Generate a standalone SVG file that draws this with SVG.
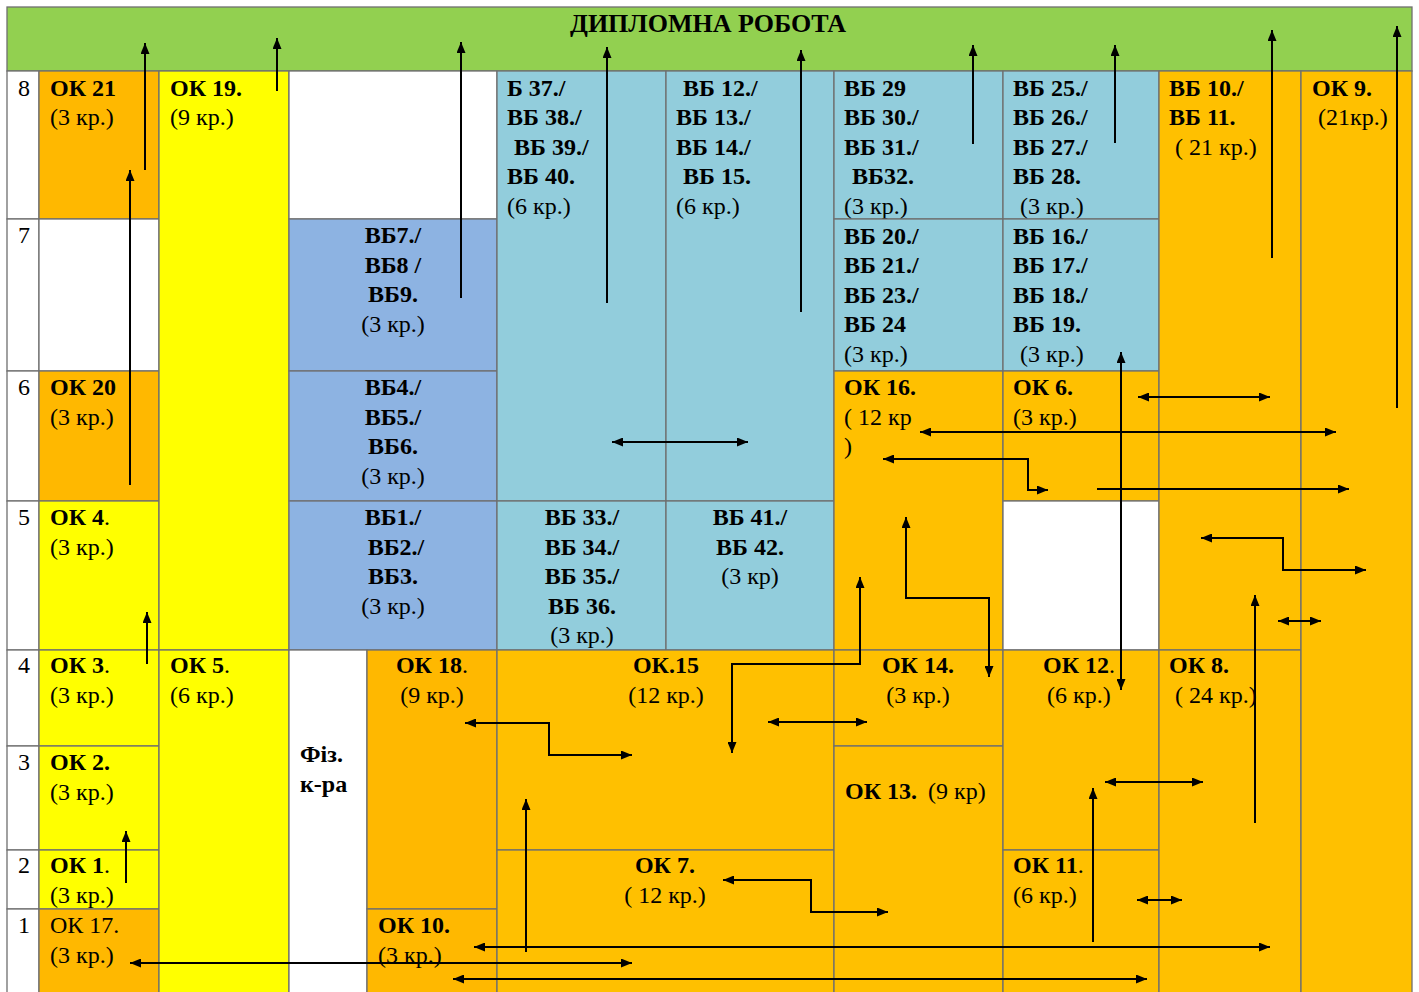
<svg xmlns="http://www.w3.org/2000/svg" width="1419" height="992" viewBox="0 0 1419 992">
<style>
.c{stroke:#6f6f6f;stroke-width:1.3}
.g{fill:#92D050}.o{fill:#FFC000}.o2{fill:#FFB800}.y{fill:#FFFF00}.b{fill:#8DB3E2}.lb{fill:#92CDDC}.w{fill:#FFFFFF}
text{font-family:"Liberation Serif","Times New Roman",serif;font-size:24px;fill:#000}
.B{font-weight:bold}
.m{text-anchor:middle}
.t{font-size:26px;font-weight:bold;text-anchor:middle}
.a{fill:none;stroke:#000;stroke-width:2}
</style>
<defs>
<marker id="ah" viewBox="0 0 11 9" refX="11" refY="4.5" markerWidth="11" markerHeight="9" markerUnits="userSpaceOnUse" orient="auto-start-reverse">
<path d="M0,0 L11,4.5 L0,9 z" fill="#000"/>
</marker>
</defs>
<rect x="0" y="0" width="1419" height="992" fill="#fff"/>
<g id="header"><rect class="c g" x="7" y="7" width="1405" height="64"/><text class="t" x="708" y="32">ДИПЛОМНА РОБОТА</text></g>
<g id="rownums">
<rect class="c w" x="7" y="71" width="32" height="148"/><text x="18" y="96">8</text>
<rect class="c w" x="7" y="219" width="32" height="152"/><text x="18" y="243">7</text>
<rect class="c w" x="7" y="371" width="32" height="130"/><text x="18" y="395">6</text>
<rect class="c w" x="7" y="501" width="32" height="149"/><text x="18" y="525">5</text>
<rect class="c w" x="7" y="650" width="32" height="96"/><text x="18" y="673">4</text>
<rect class="c w" x="7" y="746" width="32" height="104"/><text x="18" y="770">3</text>
<rect class="c w" x="7" y="850" width="32" height="59"/><text x="18" y="873">2</text>
<rect class="c w" x="7" y="909" width="32" height="90"/><text x="18" y="933">1</text>
</g>
<g id="ok21"><rect class="c o2" x="39" y="71" width="120" height="148"/><text class="B" x="50" y="96">ОК 21</text><text x="50" y="125">(3 кр.)</text></g>
<g id="empty-a7"><rect class="c w" x="39" y="219" width="120" height="152"/></g>
<g id="ok20"><rect class="c o2" x="39" y="371" width="120" height="130"/><text class="B" x="50" y="395">ОК 20</text><text x="50" y="425">(3 кр.)</text></g>
<g id="ok4"><rect class="c y" x="39" y="501" width="120" height="149"/><text x="50" y="525"><tspan class="B">ОК 4</tspan>.</text><text x="50" y="555">(3 кр.)</text></g>
<g id="ok3"><rect class="c y" x="39" y="650" width="120" height="96"/><text x="50" y="673"><tspan class="B">ОК 3</tspan>.</text><text x="50" y="703">(3 кр.)</text></g>
<g id="ok2"><rect class="c y" x="39" y="746" width="120" height="104"/><text class="B" x="50" y="770">ОК 2.</text><text x="50" y="800">(3 кр.)</text></g>
<g id="ok1"><rect class="c y" x="39" y="850" width="120" height="59"/><text x="50" y="873"><tspan class="B">ОК 1</tspan>.</text><text x="50" y="903">(3 кр.)</text></g>
<g id="ok17"><rect class="c o2" x="39" y="909" width="120" height="90"/><text x="50" y="933">ОК 17.</text><text x="50" y="963">(3 кр.)</text></g>
<g id="ok19"><rect class="c y" x="159" y="71" width="130" height="579"/><text class="B" x="170" y="96">ОК 19.</text><text x="170" y="125">(9 кр.)</text></g>
<g id="ok5"><rect class="c y" x="159" y="650" width="130" height="349"/><text x="170" y="673"><tspan class="B">ОК 5</tspan>.</text><text x="170" y="703">(6 кр.)</text></g>
<g id="empty-c8"><rect class="c w" x="289" y="71" width="208" height="148"/></g>
<g id="vb7"><rect class="c b" x="289" y="219" width="208" height="152"/><text class="B m" x="393" y="243">ВБ7./</text><text class="B m" x="393" y="273">ВБ8 /</text><text class="B m" x="393" y="302">ВБ9.</text><text class="m" x="393" y="332">(3 кр.)</text></g>
<g id="vb4"><rect class="c b" x="289" y="371" width="208" height="130"/><text class="B m" x="393" y="395">ВБ4./</text><text class="B m" x="393" y="425">ВБ5./</text><text class="B m" x="393" y="454">ВБ6.</text><text class="m" x="393" y="484">(3 кр.)</text></g>
<g id="vb1"><rect class="c b" x="289" y="501" width="208" height="149"/><text class="B m" x="393" y="525">ВБ1./</text><text class="B m" x="396" y="555">ВБ2./</text><text class="B m" x="393" y="584">ВБ3.</text><text class="m" x="393" y="614">(3 кр.)</text></g>
<g id="fiz"><rect class="c w" x="289" y="650" width="78" height="349"/><text class="B" x="300" y="762">Фіз.</text><text class="B" x="300" y="792">к-ра</text></g>
<g id="ok18"><rect class="c o2" x="367" y="650" width="130" height="259"/><text class="m" x="432" y="673"><tspan class="B">ОК 18</tspan>.</text><text class="m" x="432" y="703">(9 кр.)</text></g>
<g id="ok10"><rect class="c o2" x="367" y="909" width="130" height="90"/><text class="B" x="378" y="933">ОК 10.</text><text x="378" y="963">(3 кр.)</text></g>
<g id="vb37"><rect class="c lb" x="497" y="71" width="169" height="430"/><text class="B" x="507" y="96">Б 37./</text><text class="B" x="507" y="125">ВБ 38./</text><text class="B" x="514" y="155">ВБ 39./</text><text class="B" x="507" y="184">ВБ 40.</text><text x="507" y="214">(6 кр.)</text></g>
<g id="vb12"><rect class="c lb" x="666" y="71" width="168" height="430"/><text class="B" x="683" y="96">ВБ 12./</text><text class="B" x="676" y="125">ВБ 13./</text><text class="B" x="676" y="155">ВБ 14./</text><text class="B" x="683" y="184">ВБ 15.</text><text x="676" y="214">(6 кр.)</text></g>
<g id="vb33"><rect class="c lb" x="497" y="501" width="169" height="149"/><text class="B m" x="582" y="525">ВБ 33./</text><text class="B m" x="582" y="555">ВБ 34./</text><text class="B m" x="582" y="584">ВБ 35./</text><text class="B m" x="582" y="614">ВБ 36.</text><text class="m" x="582" y="643">(3 кр.)</text></g>
<g id="vb41"><rect class="c lb" x="666" y="501" width="168" height="149"/><text class="B m" x="750" y="525">ВБ 41./</text><text class="B m" x="750" y="555">ВБ 42.</text><text class="m" x="750" y="584">(3 кр)</text></g>
<g id="ok15"><rect class="c o" x="497" y="650" width="337" height="200"/><text class="B m" x="666" y="673">ОК.15</text><text class="m" x="666" y="703">(12 кр.)</text></g>
<g id="ok7"><rect class="c o" x="497" y="850" width="337" height="149"/><text class="B m" x="665" y="873">ОК 7.</text><text class="m" x="665" y="903">( 12 кр.)</text></g>
<g id="vb29"><rect class="c lb" x="834" y="71" width="169" height="148"/><text class="B" x="844" y="96">ВБ 29</text><text class="B" x="844" y="125">ВБ 30./</text><text class="B" x="844" y="155">ВБ 31./</text><text class="B" x="852" y="184">ВБ32.</text><text x="844" y="214">(3 кр.)</text></g>
<g id="vb20"><rect class="c lb" x="834" y="219" width="169" height="152"/><text class="B" x="844" y="244">ВБ 20./</text><text class="B" x="844" y="273">ВБ 21./</text><text class="B" x="844" y="303">ВБ 23./</text><text class="B" x="844" y="332">ВБ 24</text><text x="844" y="362">(3 кр.)</text></g>
<g id="ok16"><rect class="c o" x="834" y="371" width="169" height="279"/><text class="B" x="844" y="395">ОК 16.</text><text x="844" y="425">( 12 кр</text><text x="844" y="454">)</text></g>
<g id="ok14"><rect class="c o" x="834" y="650" width="169" height="96"/><text class="B m" x="918" y="673">ОК 14.</text><text class="m" x="918" y="703">(3 кр.)</text></g>
<g id="ok13"><rect class="c o" x="834" y="746" width="169" height="253"/><text x="845" y="799"><tspan class="B">ОК 13.</tspan><tspan x="928">(9 кр)</tspan></text></g>
<g id="vb25"><rect class="c lb" x="1003" y="71" width="156" height="148"/><text class="B" x="1013" y="96">ВБ 25./</text><text class="B" x="1013" y="125">ВБ 26./</text><text class="B" x="1013" y="155">ВБ 27./</text><text class="B" x="1013" y="184">ВБ 28.</text><text x="1020" y="214">(3 кр.)</text></g>
<g id="vb16"><rect class="c lb" x="1003" y="219" width="156" height="152"/><text class="B" x="1013" y="244">ВБ 16./</text><text class="B" x="1013" y="273">ВБ 17./</text><text class="B" x="1013" y="303">ВБ 18./</text><text class="B" x="1013" y="332">ВБ 19.</text><text x="1020" y="362">(3 кр.)</text></g>
<g id="ok6"><rect class="c o" x="1003" y="371" width="156" height="130"/><text class="B" x="1013" y="395">ОК 6.</text><text x="1013" y="425">(3 кр.)</text></g>
<g id="empty-g5"><rect class="c w" x="1003" y="501" width="156" height="149"/></g>
<g id="ok12"><rect class="c o" x="1003" y="650" width="156" height="200"/><text x="1043" y="673"><tspan class="B">ОК 12</tspan>.</text><text x="1047" y="703">(6 кр.)</text></g>
<g id="ok11"><rect class="c o" x="1003" y="850" width="156" height="149"/><text x="1013" y="873"><tspan class="B">ОК 11</tspan>.</text><text x="1013" y="903">(6 кр.)</text></g>
<g id="vb10"><rect class="c o" x="1159" y="71" width="142" height="579"/><text class="B" x="1169" y="96">ВБ 10./</text><text class="B" x="1169" y="125">ВБ 11.</text><text x="1175" y="155">( 21 кр.)</text></g>
<g id="ok8"><rect class="c o" x="1159" y="650" width="142" height="349"/><text class="B" x="1169" y="673">ОК 8.</text><text x="1175" y="703">( 24 кр.)</text></g>
<g id="ok9"><rect class="c o" x="1301" y="71" width="111" height="928"/><text class="B" x="1312" y="96">ОК 9.</text><text x="1318" y="125">(21кр.)</text></g>
<g id="connectors">
<path class="a" marker-end="url(#ah)" d="M145,170 V43"/>
<path class="a" marker-end="url(#ah)" d="M130,485 V170"/>
<path class="a" marker-end="url(#ah)" d="M277,91 V38"/>
<path class="a" marker-end="url(#ah)" d="M461,298 V42"/>
<path class="a" marker-end="url(#ah)" d="M607,303 V47"/>
<path class="a" marker-end="url(#ah)" d="M801,312 V50"/>
<path class="a" marker-end="url(#ah)" d="M973,144 V45"/>
<path class="a" marker-end="url(#ah)" d="M1115,143 V45"/>
<path class="a" marker-end="url(#ah)" d="M1272,258 V30"/>
<path class="a" marker-end="url(#ah)" d="M1397,408 V26"/>
<path class="a" marker-start="url(#ah)" marker-end="url(#ah)" d="M1121,352 V690"/>
<path class="a" marker-start="url(#ah)" marker-end="url(#ah)" d="M1138,397 H1270"/>
<path class="a" marker-start="url(#ah)" marker-end="url(#ah)" d="M920,432 H1336"/>
<path class="a" marker-start="url(#ah)" marker-end="url(#ah)" d="M883,459 H1028 V490 H1048"/>
<path class="a" marker-end="url(#ah)" d="M1097,489 H1349"/>
<path class="a" marker-start="url(#ah)" marker-end="url(#ah)" d="M1201,538 H1283 V570 H1366"/>
<path class="a" marker-end="url(#ah)" d="M1255,823 V595"/>
<path class="a" marker-start="url(#ah)" marker-end="url(#ah)" d="M1278,621 H1321"/>
<path class="a" marker-start="url(#ah)" marker-end="url(#ah)" d="M906,517 V598 H989 V677"/>
<path class="a" marker-start="url(#ah)" marker-end="url(#ah)" d="M860,577 V664 H732 V753"/>
<path class="a" marker-start="url(#ah)" marker-end="url(#ah)" d="M612,442 H748"/>
<path class="a" marker-start="url(#ah)" marker-end="url(#ah)" d="M465,723 H549 V755 H632"/>
<path class="a" marker-start="url(#ah)" marker-end="url(#ah)" d="M768,722 H867"/>
<path class="a" marker-start="url(#ah)" marker-end="url(#ah)" d="M723,880 H811 V912 H888"/>
<path class="a" marker-end="url(#ah)" d="M526,952 V799"/>
<path class="a" marker-start="url(#ah)" marker-end="url(#ah)" d="M474,947 H1270"/>
<path class="a" marker-start="url(#ah)" marker-end="url(#ah)" d="M130,963 H632"/>
<path class="a" marker-start="url(#ah)" marker-end="url(#ah)" d="M453,979 H1147"/>
<path class="a" marker-end="url(#ah)" d="M1093,942 V788"/>
<path class="a" marker-start="url(#ah)" marker-end="url(#ah)" d="M1105,782 H1203"/>
<path class="a" marker-start="url(#ah)" marker-end="url(#ah)" d="M1137,900 H1182"/>
<path class="a" marker-end="url(#ah)" d="M126,883 V831"/>
<path class="a" marker-end="url(#ah)" d="M147,664 V612"/>
</g>
</svg>
